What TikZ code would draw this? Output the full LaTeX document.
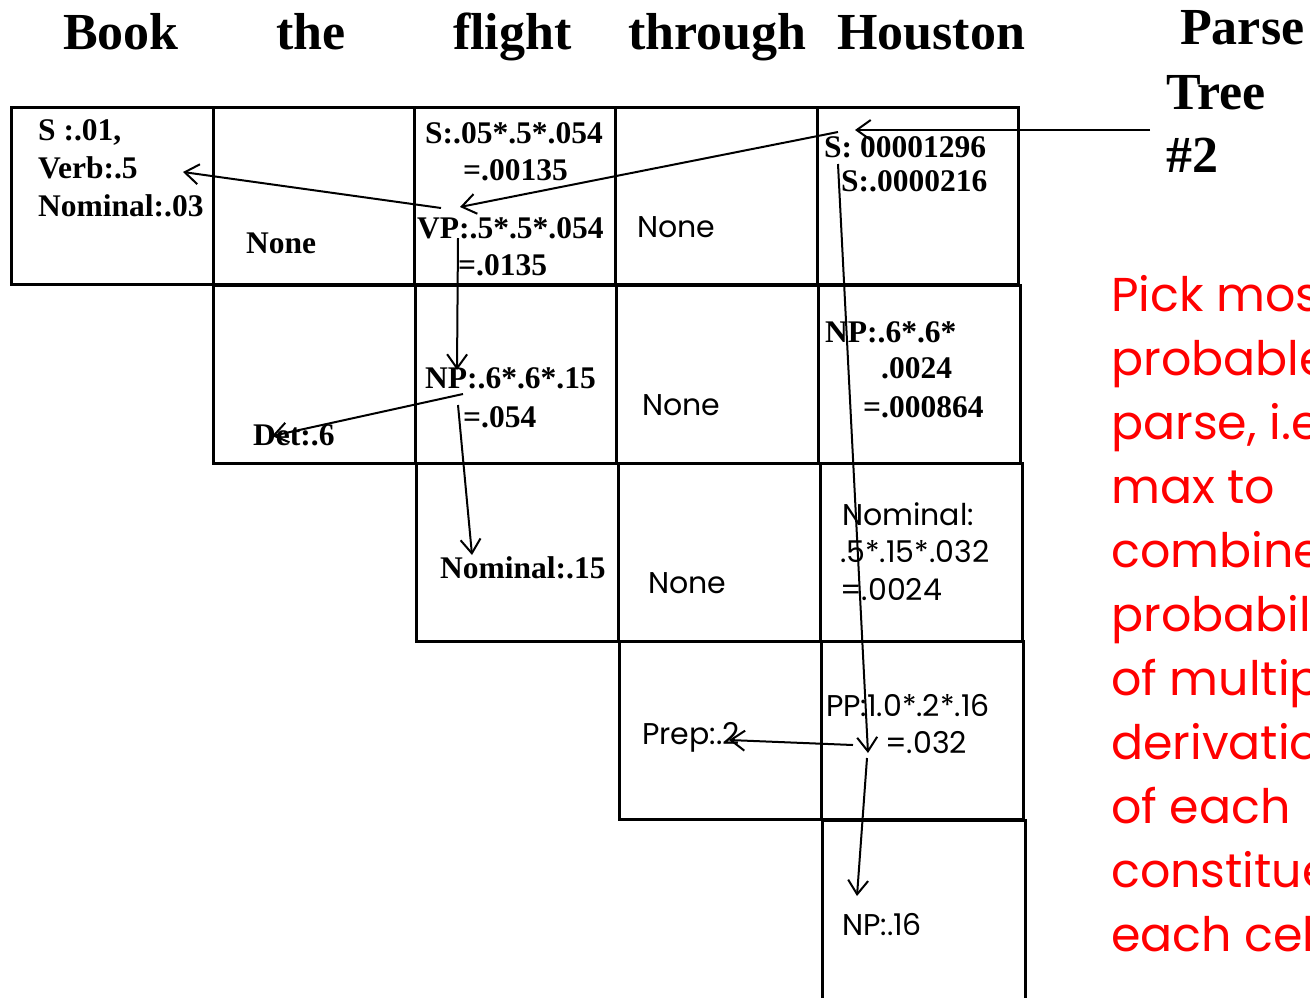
\documentclass[tikz,border=0pt]{standalone}
\usepackage{fontspec}
\setmainfont{Liberation Serif}
\newfontfamily\gsans{Poppins}
\usetikzlibrary{arrows.meta}
\newcommand\hdrfont{\fontsize{52}{60}\selectfont\bfseries}
\newcommand\cellfont{\fontsize{31.5}{38}\selectfont\bfseries}
\newcommand\cellsans{\gsans\fontsize{30}{38}\selectfont}
\newcommand\notefont{\gsans\fontsize{47.5}{64}\selectfont}
\tikzset{
  hdr/.style={font=\hdrfont, anchor=base west, inner sep=0pt},
  cb/.style={font=\cellfont, anchor=base west, inner sep=0pt},
  cs/.style={font=\cellsans, anchor=base west, inner sep=0pt},
  cellbox/.style={draw=black, line width=3pt},
  ptr/.style={draw=black, line width=2pt, -{Straight Barb[length=14pt,width=20pt,line width=2pt]}},
}
\begin{document}
\begin{tikzpicture}[x=1pt,y=-1pt]
\useasboundingbox (0,0) rectangle (1310,997);
\begin{scope}
\clip (0,0) rectangle (1310,997);
% headers
\node[hdr] (hBook) at (63,49) {Book};
\node[hdr] (hthe) at (276,49) {the};
\node[hdr] (hflight) at (453,49) {flight};
\node[hdr] (hthrough) at (628,49) {through};
\node[hdr] (hHouston) at (837,49) {Houston};
\node[hdr] (hParse) at (1180,44) {Parse};
\node[hdr] (hTree) at (1166,109) {Tree};
\node[hdr] (hNum) at (1166,172) {\#2};
% grid
\draw[cellbox] (11,107) rectangle (213,284);
\draw[cellbox] (213,107) rectangle (414,284);
\draw[cellbox] (414,107) rectangle (615,284);
\draw[cellbox] (615,107) rectangle (817,284);
\draw[cellbox] (817,107) rectangle (1018,284);
\draw[cellbox] (213,285) rectangle (415,463);
\draw[cellbox] (415,285) rectangle (616,463);
\draw[cellbox] (616,285) rectangle (818,463);
\draw[cellbox] (818,285) rectangle (1020,463);
\draw[cellbox] (416,463) rectangle (618,641);
\draw[cellbox] (618,463) rectangle (820,641);
\draw[cellbox] (820,463) rectangle (1022,641);
\draw[cellbox] (619,641) rectangle (821,819);
\draw[cellbox] (821,641) rectangle (1023,819);
\draw[cellbox] (822,820) rectangle (1025,999);
% row 1
\node[cb] (c11a) at (38,140) {S :.01,};
\node[cb] (c11b) at (38,178) {Verb:.5};
\node[cb] (c11c) at (38,216) {Nominal:.03};
\node[cb] (c12) at (246,253) {None};
\node[cb] (c13a) at (425,143) {S:.05*.5*.054};
\node[cb] (c13b) at (463,180) {=.00135};
\node[cb] (c13c) at (417,238) {VP:.5*.5*.054};
\node[cb] (c13d) at (458,275) {=.0135};
\node[cs] (c14) at (637,237) {None};
\node[cb] (c15a) at (824,157) {S: 00001296};
\node[cb] (c15b) at (841,191) {S:.0000216};
% row 2
\node[cb] (c22) at (253,445) {Det:.6};
\node[cb] (c23a) at (425,388) {NP:.6*.6*.15};
\node[cb] (c23b) at (463,427) {=.054};
\node[cs] (c24) at (642,415) {None};
\node[cb] (c25a) at (825,342) {NP:.6*.6*};
\node[cb] (c25b) at (881,378) {.0024};
\node[cb] (c25c) at (863,417) {=.000864};
% row 3
\node[cb] (c33) at (440,578) {Nominal:.15};
\node[cs] (c34) at (648,593) {None};
\node[cs] (c35a) at (842,525) {Nominal:};
\node[cs] (c35b) at (840,562) {.5*.15*.032};
\node[cs] (c35c) at (840,600) {=.0024};
% row 4
\node[cs] (c44) at (642,744) {Prep:.2};
\node[cs] (c45a) at (826,716) {PP:1.0*.2*.16};
\node[cs] (c45b) at (885,753) {=.032};
% row 5
\node[cs] (c55) at (842,935) {NP:.16};
% note
\node[font=\notefont, text=red, anchor=north west, inner sep=0pt, align=left] (note) at (1111,275)
  {Pick most\\probable\\parse, i.e.\\max to\\combine\\probabilities\\of multiple\\derivations\\of each\\constituent in\\each cell};
% arrow endpoints
\coordinate (ptStart) at (1150,130);
\coordinate (ptS) at (855,130);
\coordinate (sOutL) at (838,132);
\coordinate (vpIn) at (460,207);
\coordinate (vpOutL) at (441,208);
\coordinate (verbIn) at (183,172);
\coordinate (vpOutD) at (458,238);
\coordinate (npIn) at (457,370);
\coordinate (npOutL) at (463,394);
\coordinate (detIn) at (272,436);
\coordinate (npOutD) at (458,405);
\coordinate (nomIn) at (472,555);
\coordinate (sOutD) at (838,164);
\coordinate (ppIn) at (868,753);
\coordinate (ppOutL) at (853,745);
\coordinate (prepIn) at (729,740);
\coordinate (ppOutD) at (867,758);
\coordinate (npSixteenIn) at (857,896);
% arrows
\draw[ptr] (ptStart) -- (ptS);
\draw[ptr] (sOutL) -- (vpIn);
\draw[ptr] (vpOutL) -- (verbIn);
\draw[ptr] (vpOutD) -- (npIn);
\draw[ptr] (npOutL) -- (detIn);
\draw[ptr] (npOutD) -- (nomIn);
\draw[ptr] (sOutD) -- (ppIn);
\draw[ptr] (ppOutL) -- (prepIn);
\draw[ptr] (ppOutD) -- (npSixteenIn);
\end{scope}
\end{tikzpicture}
\end{document}
